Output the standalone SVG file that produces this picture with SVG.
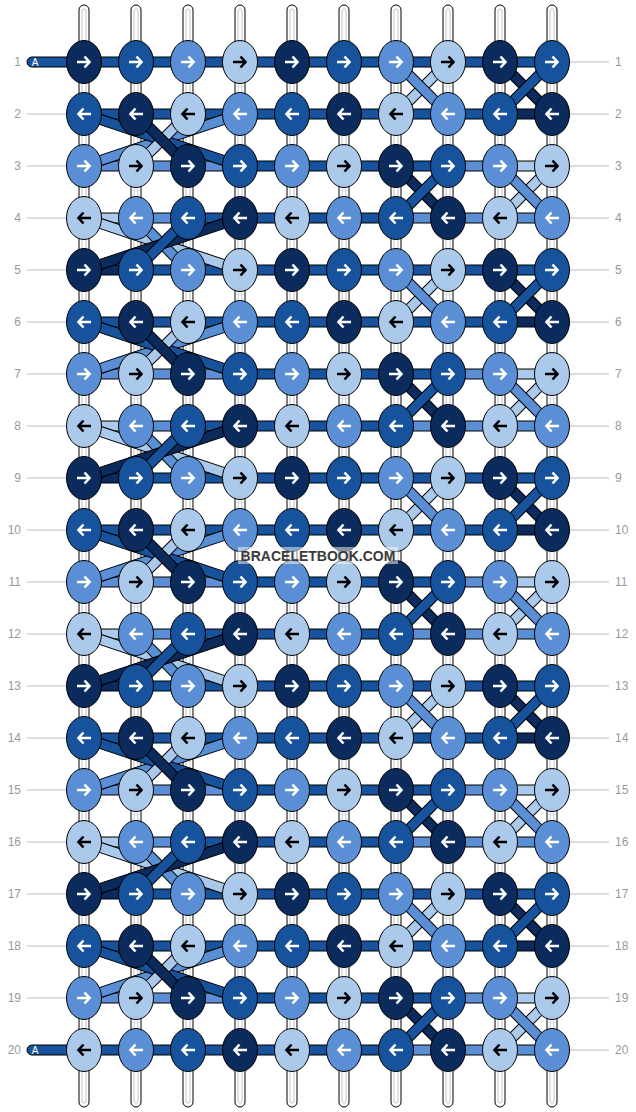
<svg xmlns="http://www.w3.org/2000/svg" width="636" height="1112" viewBox="0 0 636 1112">
<style>
.D{fill:#0a2b5c}.M{fill:#17539c}.L{fill:#5a8fd5}.P{fill:#abc9eb}
.kn{stroke:#000;stroke-width:1}
.aw{fill:none;stroke:#fff;stroke-width:2.6}
.ab{fill:none;stroke:#000;stroke-width:2.6}
.tube{fill:#fff;stroke:#000;stroke-width:1}
.tin{fill:none;stroke:#c4c4c4;stroke-width:1}
.lbl{font-family:"Liberation Sans",Arial,sans-serif;font-size:12px;fill:#999}
.gl{stroke:#bbb;stroke-width:1}
</style>
<defs>
<path id="ar" d="M-7 0H5M.5-5.5L5.5 0L.5 5.5"/>
<path id="al" d="M7 0H-5M-.5-5.5L-5.5 0L-.5 5.5"/>
<g id="kDr"><ellipse class="kn D" rx="17.5" ry="21.5"/><use href="#ar" class="aw"/></g>
<g id="kMr"><ellipse class="kn M" rx="17.5" ry="21.5"/><use href="#ar" class="aw"/></g>
<g id="kLr"><ellipse class="kn L" rx="17.5" ry="21.5"/><use href="#ar" class="aw"/></g>
<g id="kPr"><ellipse class="kn P" rx="17.5" ry="21.5"/><use href="#ar" class="ab"/></g>
<g id="kDl"><ellipse class="kn D" rx="17.5" ry="21.5"/><use href="#al" class="aw"/></g>
<g id="kMl"><ellipse class="kn M" rx="17.5" ry="21.5"/><use href="#al" class="aw"/></g>
<g id="kLl"><ellipse class="kn L" rx="17.5" ry="21.5"/><use href="#al" class="aw"/></g>
<g id="kPl"><ellipse class="kn P" rx="17.5" ry="21.5"/><use href="#al" class="ab"/></g>
<rect id="h" y="-5" width="52" height="10"/>
<rect id="dr" y="-5" width="73.54" height="10" transform="rotate(45)"/>
<rect id="dl" y="-5" width="73.54" height="10" transform="rotate(135)"/>
<rect id="lr" y="-5" width="164.44" height="10" transform="rotate(18.435)"/>
<rect id="ll" y="-5" width="164.44" height="10" transform="rotate(161.565)"/>
<g id="h1"><use href="#h" x="84" class="M"/><use href="#h" x="136" class="M"/><use href="#h" x="188" class="M"/><use href="#h" x="240" class="M"/><use href="#h" x="292" class="M"/><use href="#h" x="344" class="M"/><use href="#h" x="396" class="M"/><use href="#h" x="448" class="M"/><use href="#h" x="500" class="M"/></g>
<g id="hA"><use href="#h" x="84" class="D"/><use href="#h" x="136" class="M"/><use href="#h" x="188" class="M"/><use href="#h" x="240" class="M"/><use href="#h" x="292" class="M"/><use href="#h" x="344" class="M"/><use href="#h" x="396" class="M"/><use href="#h" x="448" class="M"/><use href="#h" x="500" class="M"/></g>
<g id="hB"><use href="#h" x="84" class="M"/><use href="#h" x="136" class="M"/><use href="#h" x="188" class="M"/><use href="#h" x="240" class="M"/><use href="#h" x="292" class="M"/><use href="#h" x="344" class="M"/><use href="#h" x="396" class="M"/><use href="#h" x="448" class="M"/><use href="#h" x="500" class="D"/></g>
<g id="hC"><use href="#h" x="84" class="L"/><use href="#h" x="136" class="L"/><use href="#h" x="188" class="L"/><use href="#h" x="240" class="M"/><use href="#h" x="292" class="M"/><use href="#h" x="344" class="M"/><use href="#h" x="396" class="M"/><use href="#h" x="448" class="L"/><use href="#h" x="500" class="P"/></g>
<g id="hD"><use href="#h" x="84" class="P"/><use href="#h" x="136" class="L"/><use href="#h" x="188" class="M"/><use href="#h" x="240" class="M"/><use href="#h" x="292" class="M"/><use href="#h" x="344" class="M"/><use href="#h" x="396" class="L"/><use href="#h" x="448" class="L"/><use href="#h" x="500" class="L"/></g>
<g id="h20"><use href="#h" x="84" class="M"/><use href="#h" x="136" class="M"/><use href="#h" x="188" class="M"/><use href="#h" x="240" class="M"/><use href="#h" x="292" class="M"/><use href="#h" x="344" class="M"/><use href="#h" x="396" class="L"/><use href="#h" x="448" class="L"/><use href="#h" x="500" class="L"/></g>
<g id="gAB"><use href="#dl" x="448" class="P"/><use href="#dr" x="396" class="L"/><use href="#dr" x="500" class="D"/><use href="#dl" x="552" class="M"/></g>
<g id="gBC"><use href="#ll" x="240" class="L"/><use href="#lr" x="84" class="M"/><use href="#dl" x="188" class="P"/><use href="#dr" x="136" class="D"/></g>
<g id="gCD"><use href="#dr" x="396" class="D"/><use href="#dl" x="448" class="M"/><use href="#dl" x="552" class="P"/><use href="#dr" x="500" class="L"/></g>
<g id="gDA"><use href="#lr" x="84" class="P"/><use href="#dr" x="136" class="L"/><use href="#ll" x="240" class="D"/><use href="#dl" x="188" class="M"/></g>
</defs>
<rect width="636" height="1112" fill="#fff"/>
<g id="strings">
<rect class="tube" x="79" y="5" width="10" height="1102" rx="5"/><rect class="tin" x="82" y="9" width="4" height="1094" rx="2"/>
<rect class="tube" x="131" y="5" width="10" height="1102" rx="5"/><rect class="tin" x="134" y="9" width="4" height="1094" rx="2"/>
<rect class="tube" x="183" y="5" width="10" height="1102" rx="5"/><rect class="tin" x="186" y="9" width="4" height="1094" rx="2"/>
<rect class="tube" x="235" y="5" width="10" height="1102" rx="5"/><rect class="tin" x="238" y="9" width="4" height="1094" rx="2"/>
<rect class="tube" x="287" y="5" width="10" height="1102" rx="5"/><rect class="tin" x="290" y="9" width="4" height="1094" rx="2"/>
<rect class="tube" x="339" y="5" width="10" height="1102" rx="5"/><rect class="tin" x="342" y="9" width="4" height="1094" rx="2"/>
<rect class="tube" x="391" y="5" width="10" height="1102" rx="5"/><rect class="tin" x="394" y="9" width="4" height="1094" rx="2"/>
<rect class="tube" x="443" y="5" width="10" height="1102" rx="5"/><rect class="tin" x="446" y="9" width="4" height="1094" rx="2"/>
<rect class="tube" x="495" y="5" width="10" height="1102" rx="5"/><rect class="tin" x="498" y="9" width="4" height="1094" rx="2"/>
<rect class="tube" x="547" y="5" width="10" height="1102" rx="5"/><rect class="tin" x="550" y="9" width="4" height="1094" rx="2"/>
</g>
<g id="labels">
<g class="gl">
<line x1="27" y1="114" x2="66" y2="114"/><line x1="27" y1="166" x2="66" y2="166"/><line x1="27" y1="218" x2="66" y2="218"/><line x1="27" y1="270" x2="66" y2="270"/><line x1="27" y1="322" x2="66" y2="322"/><line x1="27" y1="374" x2="66" y2="374"/><line x1="27" y1="426" x2="66" y2="426"/><line x1="27" y1="478" x2="66" y2="478"/><line x1="27" y1="530" x2="66" y2="530"/><line x1="27" y1="582" x2="66" y2="582"/><line x1="27" y1="634" x2="66" y2="634"/><line x1="27" y1="686" x2="66" y2="686"/><line x1="27" y1="738" x2="66" y2="738"/><line x1="27" y1="790" x2="66" y2="790"/><line x1="27" y1="842" x2="66" y2="842"/><line x1="27" y1="894" x2="66" y2="894"/><line x1="27" y1="946" x2="66" y2="946"/><line x1="27" y1="998" x2="66" y2="998"/>
<line x1="570" y1="62" x2="609" y2="62"/><line x1="570" y1="114" x2="609" y2="114"/><line x1="570" y1="166" x2="609" y2="166"/><line x1="570" y1="218" x2="609" y2="218"/><line x1="570" y1="270" x2="609" y2="270"/><line x1="570" y1="322" x2="609" y2="322"/><line x1="570" y1="374" x2="609" y2="374"/><line x1="570" y1="426" x2="609" y2="426"/><line x1="570" y1="478" x2="609" y2="478"/><line x1="570" y1="530" x2="609" y2="530"/><line x1="570" y1="582" x2="609" y2="582"/><line x1="570" y1="634" x2="609" y2="634"/><line x1="570" y1="686" x2="609" y2="686"/><line x1="570" y1="738" x2="609" y2="738"/><line x1="570" y1="790" x2="609" y2="790"/><line x1="570" y1="842" x2="609" y2="842"/><line x1="570" y1="894" x2="609" y2="894"/><line x1="570" y1="946" x2="609" y2="946"/><line x1="570" y1="998" x2="609" y2="998"/><line x1="570" y1="1050" x2="609" y2="1050"/>
</g>
<g class="lbl" text-anchor="end">
<text x="21" y="66.3">1</text><text x="21" y="118.3">2</text><text x="21" y="170.3">3</text><text x="21" y="222.3">4</text><text x="21" y="274.3">5</text><text x="21" y="326.3">6</text><text x="21" y="378.3">7</text><text x="21" y="430.3">8</text><text x="21" y="482.3">9</text><text x="21" y="534.3">10</text><text x="21" y="586.3">11</text><text x="21" y="638.3">12</text><text x="21" y="690.3">13</text><text x="21" y="742.3">14</text><text x="21" y="794.3">15</text><text x="21" y="846.3">16</text><text x="21" y="898.3">17</text><text x="21" y="950.3">18</text><text x="21" y="1002.3">19</text><text x="21" y="1054.3">20</text>
</g>
<g class="lbl">
<text x="615" y="66.3">1</text><text x="615" y="118.3">2</text><text x="615" y="170.3">3</text><text x="615" y="222.3">4</text><text x="615" y="274.3">5</text><text x="615" y="326.3">6</text><text x="615" y="378.3">7</text><text x="615" y="430.3">8</text><text x="615" y="482.3">9</text><text x="615" y="534.3">10</text><text x="615" y="586.3">11</text><text x="615" y="638.3">12</text><text x="615" y="690.3">13</text><text x="615" y="742.3">14</text><text x="615" y="794.3">15</text><text x="615" y="846.3">16</text><text x="615" y="898.3">17</text><text x="615" y="950.3">18</text><text x="615" y="1002.3">19</text><text x="615" y="1054.3">20</text>
</g>
</g>
<g id="connectors" stroke="#000" stroke-width="1">
<rect class="M" x="27" y="57" width="60" height="10" rx="5"/>
<rect class="M" x="27" y="1045" width="60" height="10" rx="5"/>
<use href="#h1" y="62"/><use href="#hB" y="114"/><use href="#hC" y="166"/><use href="#hD" y="218"/>
<use href="#hA" y="270"/><use href="#hB" y="322"/><use href="#hC" y="374"/><use href="#hD" y="426"/>
<use href="#hA" y="478"/><use href="#hB" y="530"/><use href="#hC" y="582"/><use href="#hD" y="634"/>
<use href="#hA" y="686"/><use href="#hB" y="738"/><use href="#hC" y="790"/><use href="#hD" y="842"/>
<use href="#hA" y="894"/><use href="#hB" y="946"/><use href="#hC" y="998"/><use href="#h20" y="1050"/>
<use href="#gAB" y="62"/><use href="#gBC" y="114"/><use href="#gCD" y="166"/><use href="#gDA" y="218"/>
<use href="#gAB" y="270"/><use href="#gBC" y="322"/><use href="#gCD" y="374"/><use href="#gDA" y="426"/>
<use href="#gAB" y="478"/><use href="#gBC" y="530"/><use href="#gCD" y="582"/><use href="#gDA" y="634"/>
<use href="#gAB" y="686"/><use href="#gBC" y="738"/><use href="#gCD" y="790"/><use href="#gDA" y="842"/>
<use href="#gAB" y="894"/><use href="#gBC" y="946"/><use href="#gCD" y="998"/>
</g>
<g id="threadlabels" font-family="Liberation Sans,Arial,sans-serif" font-size="10" fill="#fff">
<text x="31.7" y="65.7">A</text>
<text x="31.7" y="1053.7">A</text>
</g>
<g id="knots">
<g id="k1-1"><use href="#kDr" x="84" y="62"/></g><g id="k1-2"><use href="#kMr" x="136" y="62"/></g><g id="k1-3"><use href="#kLr" x="188" y="62"/></g><g id="k1-4"><use href="#kPr" x="240" y="62"/></g><g id="k1-5"><use href="#kDr" x="292" y="62"/></g><g id="k1-6"><use href="#kMr" x="344" y="62"/></g><g id="k1-7"><use href="#kLr" x="396" y="62"/></g><g id="k1-8"><use href="#kPr" x="448" y="62"/></g><g id="k1-9"><use href="#kDr" x="500" y="62"/></g><g id="k1-10"><use href="#kMr" x="552" y="62"/></g>
<g id="k2-1"><use href="#kMl" x="84" y="114"/></g><g id="k2-2"><use href="#kDl" x="136" y="114"/></g><g id="k2-3"><use href="#kPl" x="188" y="114"/></g><g id="k2-4"><use href="#kLl" x="240" y="114"/></g><g id="k2-5"><use href="#kMl" x="292" y="114"/></g><g id="k2-6"><use href="#kDl" x="344" y="114"/></g><g id="k2-7"><use href="#kPl" x="396" y="114"/></g><g id="k2-8"><use href="#kLl" x="448" y="114"/></g><g id="k2-9"><use href="#kMl" x="500" y="114"/></g><g id="k2-10"><use href="#kDl" x="552" y="114"/></g>
<g id="k3-1"><use href="#kLr" x="84" y="166"/></g><g id="k3-2"><use href="#kPr" x="136" y="166"/></g><g id="k3-3"><use href="#kDr" x="188" y="166"/></g><g id="k3-4"><use href="#kMr" x="240" y="166"/></g><g id="k3-5"><use href="#kLr" x="292" y="166"/></g><g id="k3-6"><use href="#kPr" x="344" y="166"/></g><g id="k3-7"><use href="#kDr" x="396" y="166"/></g><g id="k3-8"><use href="#kMr" x="448" y="166"/></g><g id="k3-9"><use href="#kLr" x="500" y="166"/></g><g id="k3-10"><use href="#kPr" x="552" y="166"/></g>
<g id="k4-1"><use href="#kPl" x="84" y="218"/></g><g id="k4-2"><use href="#kLl" x="136" y="218"/></g><g id="k4-3"><use href="#kMl" x="188" y="218"/></g><g id="k4-4"><use href="#kDl" x="240" y="218"/></g><g id="k4-5"><use href="#kPl" x="292" y="218"/></g><g id="k4-6"><use href="#kLl" x="344" y="218"/></g><g id="k4-7"><use href="#kMl" x="396" y="218"/></g><g id="k4-8"><use href="#kDl" x="448" y="218"/></g><g id="k4-9"><use href="#kPl" x="500" y="218"/></g><g id="k4-10"><use href="#kLl" x="552" y="218"/></g>
<g id="k5-1"><use href="#kDr" x="84" y="270"/></g><g id="k5-2"><use href="#kMr" x="136" y="270"/></g><g id="k5-3"><use href="#kLr" x="188" y="270"/></g><g id="k5-4"><use href="#kPr" x="240" y="270"/></g><g id="k5-5"><use href="#kDr" x="292" y="270"/></g><g id="k5-6"><use href="#kMr" x="344" y="270"/></g><g id="k5-7"><use href="#kLr" x="396" y="270"/></g><g id="k5-8"><use href="#kPr" x="448" y="270"/></g><g id="k5-9"><use href="#kDr" x="500" y="270"/></g><g id="k5-10"><use href="#kMr" x="552" y="270"/></g>
<g id="k6-1"><use href="#kMl" x="84" y="322"/></g><g id="k6-2"><use href="#kDl" x="136" y="322"/></g><g id="k6-3"><use href="#kPl" x="188" y="322"/></g><g id="k6-4"><use href="#kLl" x="240" y="322"/></g><g id="k6-5"><use href="#kMl" x="292" y="322"/></g><g id="k6-6"><use href="#kDl" x="344" y="322"/></g><g id="k6-7"><use href="#kPl" x="396" y="322"/></g><g id="k6-8"><use href="#kLl" x="448" y="322"/></g><g id="k6-9"><use href="#kMl" x="500" y="322"/></g><g id="k6-10"><use href="#kDl" x="552" y="322"/></g>
<g id="k7-1"><use href="#kLr" x="84" y="374"/></g><g id="k7-2"><use href="#kPr" x="136" y="374"/></g><g id="k7-3"><use href="#kDr" x="188" y="374"/></g><g id="k7-4"><use href="#kMr" x="240" y="374"/></g><g id="k7-5"><use href="#kLr" x="292" y="374"/></g><g id="k7-6"><use href="#kPr" x="344" y="374"/></g><g id="k7-7"><use href="#kDr" x="396" y="374"/></g><g id="k7-8"><use href="#kMr" x="448" y="374"/></g><g id="k7-9"><use href="#kLr" x="500" y="374"/></g><g id="k7-10"><use href="#kPr" x="552" y="374"/></g>
<g id="k8-1"><use href="#kPl" x="84" y="426"/></g><g id="k8-2"><use href="#kLl" x="136" y="426"/></g><g id="k8-3"><use href="#kMl" x="188" y="426"/></g><g id="k8-4"><use href="#kDl" x="240" y="426"/></g><g id="k8-5"><use href="#kPl" x="292" y="426"/></g><g id="k8-6"><use href="#kLl" x="344" y="426"/></g><g id="k8-7"><use href="#kMl" x="396" y="426"/></g><g id="k8-8"><use href="#kDl" x="448" y="426"/></g><g id="k8-9"><use href="#kPl" x="500" y="426"/></g><g id="k8-10"><use href="#kLl" x="552" y="426"/></g>
<g id="k9-1"><use href="#kDr" x="84" y="478"/></g><g id="k9-2"><use href="#kMr" x="136" y="478"/></g><g id="k9-3"><use href="#kLr" x="188" y="478"/></g><g id="k9-4"><use href="#kPr" x="240" y="478"/></g><g id="k9-5"><use href="#kDr" x="292" y="478"/></g><g id="k9-6"><use href="#kMr" x="344" y="478"/></g><g id="k9-7"><use href="#kLr" x="396" y="478"/></g><g id="k9-8"><use href="#kPr" x="448" y="478"/></g><g id="k9-9"><use href="#kDr" x="500" y="478"/></g><g id="k9-10"><use href="#kMr" x="552" y="478"/></g>
<g id="k10-1"><use href="#kMl" x="84" y="530"/></g><g id="k10-2"><use href="#kDl" x="136" y="530"/></g><g id="k10-3"><use href="#kPl" x="188" y="530"/></g><g id="k10-4"><use href="#kLl" x="240" y="530"/></g><g id="k10-5"><use href="#kMl" x="292" y="530"/></g><g id="k10-6"><use href="#kDl" x="344" y="530"/></g><g id="k10-7"><use href="#kPl" x="396" y="530"/></g><g id="k10-8"><use href="#kLl" x="448" y="530"/></g><g id="k10-9"><use href="#kMl" x="500" y="530"/></g><g id="k10-10"><use href="#kDl" x="552" y="530"/></g>
<g id="k11-1"><use href="#kLr" x="84" y="582"/></g><g id="k11-2"><use href="#kPr" x="136" y="582"/></g><g id="k11-3"><use href="#kDr" x="188" y="582"/></g><g id="k11-4"><use href="#kMr" x="240" y="582"/></g><g id="k11-5"><use href="#kLr" x="292" y="582"/></g><g id="k11-6"><use href="#kPr" x="344" y="582"/></g><g id="k11-7"><use href="#kDr" x="396" y="582"/></g><g id="k11-8"><use href="#kMr" x="448" y="582"/></g><g id="k11-9"><use href="#kLr" x="500" y="582"/></g><g id="k11-10"><use href="#kPr" x="552" y="582"/></g>
<g id="k12-1"><use href="#kPl" x="84" y="634"/></g><g id="k12-2"><use href="#kLl" x="136" y="634"/></g><g id="k12-3"><use href="#kMl" x="188" y="634"/></g><g id="k12-4"><use href="#kDl" x="240" y="634"/></g><g id="k12-5"><use href="#kPl" x="292" y="634"/></g><g id="k12-6"><use href="#kLl" x="344" y="634"/></g><g id="k12-7"><use href="#kMl" x="396" y="634"/></g><g id="k12-8"><use href="#kDl" x="448" y="634"/></g><g id="k12-9"><use href="#kPl" x="500" y="634"/></g><g id="k12-10"><use href="#kLl" x="552" y="634"/></g>
<g id="k13-1"><use href="#kDr" x="84" y="686"/></g><g id="k13-2"><use href="#kMr" x="136" y="686"/></g><g id="k13-3"><use href="#kLr" x="188" y="686"/></g><g id="k13-4"><use href="#kPr" x="240" y="686"/></g><g id="k13-5"><use href="#kDr" x="292" y="686"/></g><g id="k13-6"><use href="#kMr" x="344" y="686"/></g><g id="k13-7"><use href="#kLr" x="396" y="686"/></g><g id="k13-8"><use href="#kPr" x="448" y="686"/></g><g id="k13-9"><use href="#kDr" x="500" y="686"/></g><g id="k13-10"><use href="#kMr" x="552" y="686"/></g>
<g id="k14-1"><use href="#kMl" x="84" y="738"/></g><g id="k14-2"><use href="#kDl" x="136" y="738"/></g><g id="k14-3"><use href="#kPl" x="188" y="738"/></g><g id="k14-4"><use href="#kLl" x="240" y="738"/></g><g id="k14-5"><use href="#kMl" x="292" y="738"/></g><g id="k14-6"><use href="#kDl" x="344" y="738"/></g><g id="k14-7"><use href="#kPl" x="396" y="738"/></g><g id="k14-8"><use href="#kLl" x="448" y="738"/></g><g id="k14-9"><use href="#kMl" x="500" y="738"/></g><g id="k14-10"><use href="#kDl" x="552" y="738"/></g>
<g id="k15-1"><use href="#kLr" x="84" y="790"/></g><g id="k15-2"><use href="#kPr" x="136" y="790"/></g><g id="k15-3"><use href="#kDr" x="188" y="790"/></g><g id="k15-4"><use href="#kMr" x="240" y="790"/></g><g id="k15-5"><use href="#kLr" x="292" y="790"/></g><g id="k15-6"><use href="#kPr" x="344" y="790"/></g><g id="k15-7"><use href="#kDr" x="396" y="790"/></g><g id="k15-8"><use href="#kMr" x="448" y="790"/></g><g id="k15-9"><use href="#kLr" x="500" y="790"/></g><g id="k15-10"><use href="#kPr" x="552" y="790"/></g>
<g id="k16-1"><use href="#kPl" x="84" y="842"/></g><g id="k16-2"><use href="#kLl" x="136" y="842"/></g><g id="k16-3"><use href="#kMl" x="188" y="842"/></g><g id="k16-4"><use href="#kDl" x="240" y="842"/></g><g id="k16-5"><use href="#kPl" x="292" y="842"/></g><g id="k16-6"><use href="#kLl" x="344" y="842"/></g><g id="k16-7"><use href="#kMl" x="396" y="842"/></g><g id="k16-8"><use href="#kDl" x="448" y="842"/></g><g id="k16-9"><use href="#kPl" x="500" y="842"/></g><g id="k16-10"><use href="#kLl" x="552" y="842"/></g>
<g id="k17-1"><use href="#kDr" x="84" y="894"/></g><g id="k17-2"><use href="#kMr" x="136" y="894"/></g><g id="k17-3"><use href="#kLr" x="188" y="894"/></g><g id="k17-4"><use href="#kPr" x="240" y="894"/></g><g id="k17-5"><use href="#kDr" x="292" y="894"/></g><g id="k17-6"><use href="#kMr" x="344" y="894"/></g><g id="k17-7"><use href="#kLr" x="396" y="894"/></g><g id="k17-8"><use href="#kPr" x="448" y="894"/></g><g id="k17-9"><use href="#kDr" x="500" y="894"/></g><g id="k17-10"><use href="#kMr" x="552" y="894"/></g>
<g id="k18-1"><use href="#kMl" x="84" y="946"/></g><g id="k18-2"><use href="#kDl" x="136" y="946"/></g><g id="k18-3"><use href="#kPl" x="188" y="946"/></g><g id="k18-4"><use href="#kLl" x="240" y="946"/></g><g id="k18-5"><use href="#kMl" x="292" y="946"/></g><g id="k18-6"><use href="#kDl" x="344" y="946"/></g><g id="k18-7"><use href="#kPl" x="396" y="946"/></g><g id="k18-8"><use href="#kLl" x="448" y="946"/></g><g id="k18-9"><use href="#kMl" x="500" y="946"/></g><g id="k18-10"><use href="#kDl" x="552" y="946"/></g>
<g id="k19-1"><use href="#kLr" x="84" y="998"/></g><g id="k19-2"><use href="#kPr" x="136" y="998"/></g><g id="k19-3"><use href="#kDr" x="188" y="998"/></g><g id="k19-4"><use href="#kMr" x="240" y="998"/></g><g id="k19-5"><use href="#kLr" x="292" y="998"/></g><g id="k19-6"><use href="#kPr" x="344" y="998"/></g><g id="k19-7"><use href="#kDr" x="396" y="998"/></g><g id="k19-8"><use href="#kMr" x="448" y="998"/></g><g id="k19-9"><use href="#kLr" x="500" y="998"/></g><g id="k19-10"><use href="#kPr" x="552" y="998"/></g>
<g id="k20-1"><use href="#kPl" x="84" y="1050"/></g><g id="k20-2"><use href="#kLl" x="136" y="1050"/></g><g id="k20-3"><use href="#kMl" x="188" y="1050"/></g><g id="k20-4"><use href="#kDl" x="240" y="1050"/></g><g id="k20-5"><use href="#kPl" x="292" y="1050"/></g><g id="k20-6"><use href="#kLl" x="344" y="1050"/></g><g id="k20-7"><use href="#kMl" x="396" y="1050"/></g><g id="k20-8"><use href="#kDl" x="448" y="1050"/></g><g id="k20-9"><use href="#kPl" x="500" y="1050"/></g><g id="k20-10"><use href="#kLl" x="552" y="1050"/></g>
</g>
<g id="watermark">
<rect x="238" y="547" width="160" height="17" fill="#fff" fill-opacity="0.5"/>
<text x="318" y="560.5" text-anchor="middle" font-family="Liberation Sans,Arial,sans-serif" font-weight="bold" font-size="14" fill="#3a3a3a">BRACELETBOOK.COM</text>
</g>
</svg>
